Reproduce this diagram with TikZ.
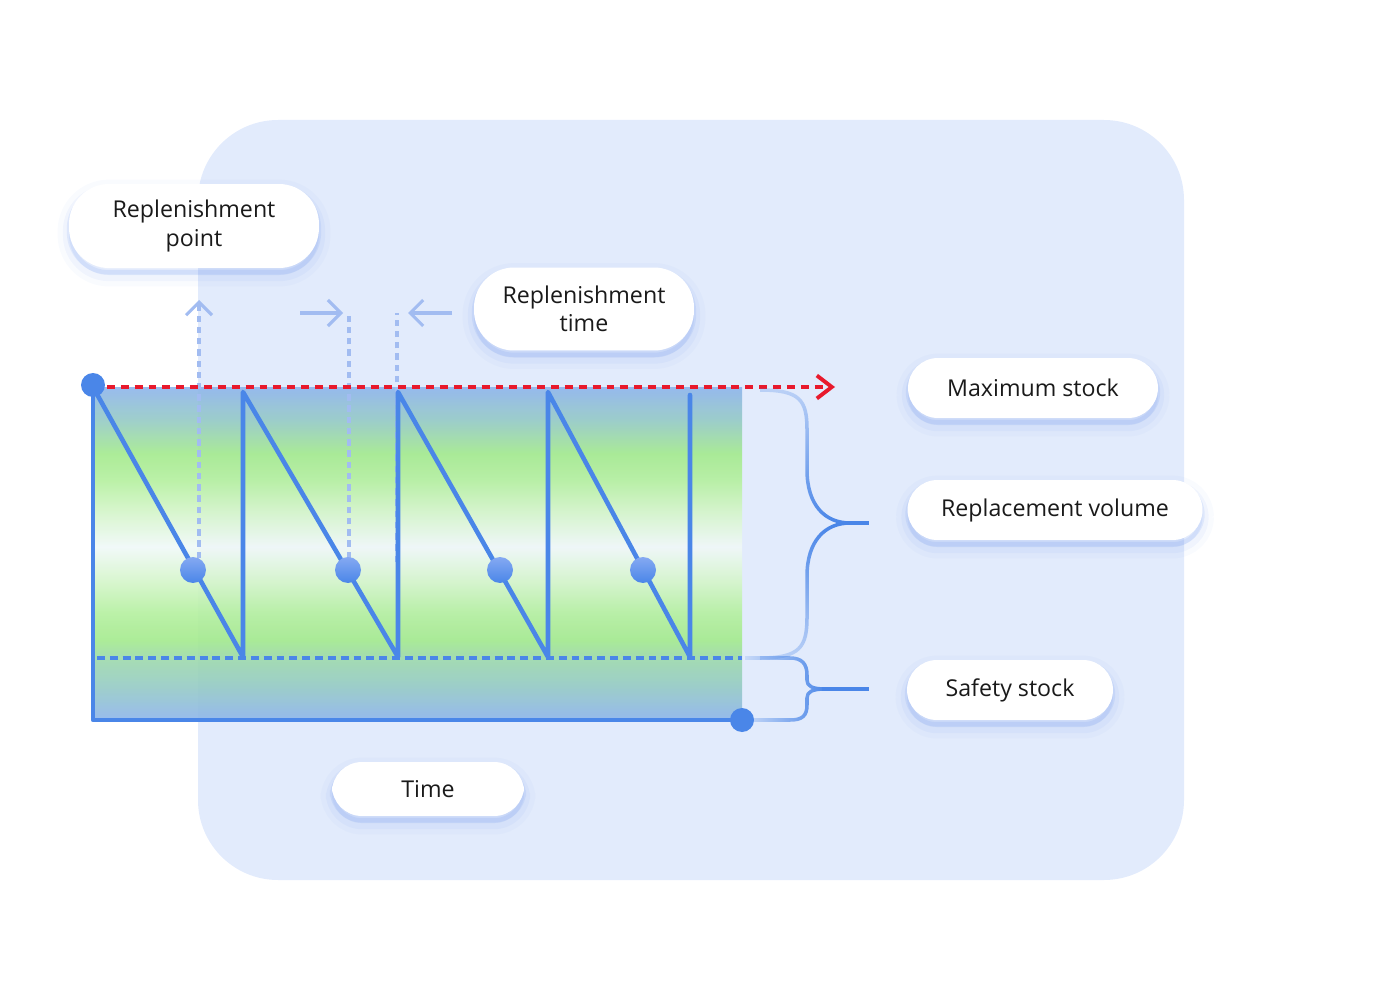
\documentclass[tikz,border=0pt]{standalone}
\usepackage{fontspec}
\setmainfont{Open Sans}
\usetikzlibrary{arrows.meta, fadings}

\definecolor{bgblue}{HTML}{E2EBFC}
\definecolor{lineblue}{HTML}{4A86E8}
\definecolor{ballhi}{HTML}{85A9F2}
\definecolor{paleblue}{HTML}{A2BCF1}
\definecolor{stockred}{HTML}{E8192C}
\definecolor{glowblue}{HTML}{6F98EE}
\definecolor{txtgray}{HTML}{1A1A1A}
\definecolor{sBlue}{HTML}{8FB5EC}
\definecolor{sTeal}{HTML}{97CBC6}
\definecolor{sMint}{HTML}{9ED9AE}
\definecolor{sGreen}{HTML}{A5EA8F}
\definecolor{sLime}{HTML}{B5F0A0}
\definecolor{sPale}{HTML}{D6F5CC}
\definecolor{sWhite}{HTML}{F0F8F8}

\pgfdeclareverticalshading{stockfill}{100bp}{%
  color(0bp)=(sBlue); color(25bp)=(sBlue); color(30bp)=(sTeal);
  color(34bp)=(sMint); color(37bp)=(sGreen); color(41bp)=(sLime);
  color(46bp)=(sPale); color(51bp)=(sWhite); color(56bp)=(sPale);
  color(61bp)=(sLime); color(65bp)=(sGreen); color(70bp)=(sTeal);
  color(75bp)=(sBlue); color(100bp)=(sBlue)}

\tikzfading[name=bracefade, top color=transparent!75,
            bottom color=transparent!75, middle color=transparent!0]
\tikzfading[name=leftfade, left color=transparent!85,
            right color=transparent!0]

\begin{document}
\begin{tikzpicture}[
  x=0.02cm, y=-0.02cm,
  pill/.style={rectangle, rounded corners=0.6cm, fill=white, text=txtgray,
               align=center, inner sep=0pt,
               font=\fontsize{13.2}{16}\selectfont,
               preaction={fill=glowblue, fill opacity=0.04, draw=glowblue,
                          draw opacity=0.04, line width=13pt,
                          transform canvas={yshift=-4pt}},
               preaction={fill=glowblue, fill opacity=0.07, draw=glowblue,
                          draw opacity=0.07, line width=7pt,
                          transform canvas={yshift=-4pt}},
               preaction={draw=glowblue, draw opacity=0.14, line width=2.5pt,
                          transform canvas={yshift=-2.5pt}}},
  chartline/.style={draw=lineblue, line width=2.6pt, line join=round,
                    line cap=round},
  safeline/.style={draw=lineblue, line width=2.1pt,
                   dash pattern=on 4.5pt off 2.8pt},
  maxline/.style={draw=stockred, line width=2.2pt,
                  dash pattern=on 4.5pt off 3.4pt},
  guide/.style={draw=paleblue, line width=1.8pt,
                dash pattern=on 3.6pt off 2.8pt},
  pointer/.style={draw=paleblue, line width=1.8pt},
  barb/.style={-{Straight Barb[length=0.26cm, width=0.52cm]}},
  brace/.style={draw=lineblue, line width=2pt, line join=round},
  dot/.style={circle, fill=lineblue, minimum size=0.48cm, inner sep=0pt},
  ball/.style={circle, top color=ballhi, bottom color=lineblue,
               minimum size=0.52cm, inner sep=0pt},
]
\useasboundingbox (0,0) rectangle (1400,1000);

\fill[bgblue, rounded corners=1.6cm] (198,120) rectangle (1184,880);
\shade[shading=stockfill, opacity=0.92] (93,387) rectangle (742,720);

\coordinate (g1) at (199,300);
\coordinate (g2) at (349,313);
\coordinate (g3) at (397,313);
\draw[guide] (199,558) -- (199,306);
\draw[pointer, barb] (199,306) -- (g1);
\draw[guide] (349,558) -- (g2);
\draw[guide] (397,562) -- (g3);
\draw[pointer, barb] (300,313) -- (343,313);
\draw[pointer, barb] (452,313) -- (408,313);

\draw[safeline] (97,658) -- (742,658);
\draw[chartline] (93,387) -- (243,657) -- (243,392) -- (398,657) -- (398,392)
  -- (548,657) -- (548,392) -- (690,657) -- (690,395);
\draw[chartline, line cap=butt] (93,387) -- (93,720) -- (742,720);
\draw[maxline, -{Straight Barb[length=0.3cm, width=0.46cm]}] (93,387) -- (835,387);

\node[dot] (top) at (93,385) {};
\node[dot] (end) at (742,720) {};
\node[ball] (d1) at (193,570) {};
\node[ball] (d2) at (348,570) {};
\node[ball] (d3) at (500,570) {};
\node[ball] (d4) at (643,570) {};

\coordinate (tipbig) at (869,523);
\coordinate (tipsmall) at (869,689);
\draw[brace, path fading=bracefade] (760,390)
  .. controls (800,390) and (807,400) .. (807,430) -- (807,470)
  .. controls (807,505) and (825,523) .. (850,523)
  .. controls (825,523) and (807,541) .. (807,576) -- (807,617)
  .. controls (807,647) and (800,658) .. (760,658);
\draw[brace] (845,523) -- (tipbig);
\draw[brace, path fading=leftfade] (745,658) -- (790,658)
  .. controls (802,658) and (807,664) .. (807,675) -- (807,680)
  .. controls (807,686) and (812,689) .. (825,689)
  .. controls (812,689) and (807,692) .. (807,698) -- (807,705)
  .. controls (807,716) and (802,720) .. (790,720) -- (745,720);
\draw[brace] (822,689) -- (tipsmall);

\node[pill, minimum width=5cm, minimum height=1.68cm, rounded corners=0.8cm]
  (rpoint) at (194,226) {Replenishment\\point};
\node[pill, minimum width=4.4cm, minimum height=1.66cm, rounded corners=0.8cm]
  (rtime) at (584,309) {Replenishment\\time};
\node[pill, minimum width=5cm, minimum height=1.2cm] (maxstock) at (1033,388) {Maximum stock};
\node[pill, minimum width=5.9cm, minimum height=1.2cm] (replvol) at (1055,510) {Replacement volume};
\node[pill, minimum width=4.12cm, minimum height=1.2cm] (safety) at (1010,690) {Safety stock};
\node[pill, minimum width=3.84cm, minimum height=1.08cm] (time) at (428,789) {Time};
\end{tikzpicture}
\end{document}
